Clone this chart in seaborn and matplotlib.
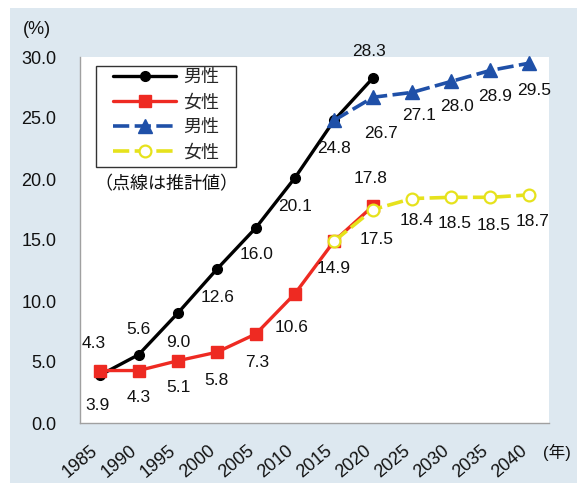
import numpy as np
import matplotlib
matplotlib.use("Agg")
import matplotlib.pyplot as plt
import seaborn as sns
from matplotlib.patches import Rectangle

# Lifetime unmarried rate (%), census results and projections
years = [1985, 1990, 1995, 2000, 2005, 2010, 2015, 2020, 2025, 2030, 2035, 2040]
census_years = [1985, 1990, 1995, 2000, 2005, 2010, 2015, 2020]
male_rate = [3.9, 5.6, 9.0, 12.6, 16.0, 20.1, 24.8, 28.3]
female_rate = [4.3, 4.3, 5.1, 5.8, 7.3, 10.6, 14.9, 17.8]
proj_years = [2015, 2020, 2025, 2030, 2035, 2040]
male_proj = [24.8, 26.7, 27.1, 28.0, 28.9, 29.5]
female_proj = [14.9, 17.5, 18.4, 18.5, 18.5, 18.7]
y_ticks = [0, 5, 10, 15, 20, 25, 30]

# value-label offsets in pixels (dx, dy) for each plotted point
male_off = [(-2, -30), (0, 25), (1, -29), (1, -28), (1, -27), (0, -29), (0, -28), (-4, 26)]
female_off = [(-6, 27), (0, -27), (1, -27), (0, -28), (1, -29), (-3, -34), (0, -27), (-3, 27)]
male_proj_off = [None, (8, -36), (7, -23), (6, -25), (5, -26), (5, -27)]
female_proj_off = [None, (4, -30), (4, -22), (3, -26), (3, -28), (3, -27)]

sns.set_style("white")
plt.rcParams["font.family"] = ["Liberation Sans", "Noto Sans CJK JP", "DejaVu Sans"]

BG = "#dde8f0"
BLACK = "#000000"
RED = "#ee2a22"
BLUE = "#1f50a8"
YELLOW = "#e6e21c"

W, H = 577, 483
AX_L, AX_R, AX_T, AX_B = 80, 549, 57, 423


def pos(yrs):
    # each year sits in the middle of its category slot
    return (np.asarray(yrs) - years[0]) / 5 + 0.5


def ax_xy(px, py):
    # pixel position (from top-left) -> axes fraction
    return (px - AX_L) / (AX_R - AX_L), (AX_B - py) / (AX_B - AX_T)


fig = plt.figure(figsize=(W / 100, H / 100), dpi=100, facecolor="white")
fig.patches.append(Rectangle((10 / W, 0), 1, 1 - 8 / H, transform=fig.transFigure,
                             facecolor=BG, edgecolor="none", zorder=-5))
ax = fig.add_axes([AX_L / W, 1 - AX_B / H, (AX_R - AX_L) / W, (AX_B - AX_T) / H])
ax.set_zorder(1)
ax.set_facecolor("white")

sns.lineplot(x=pos(census_years), y=male_rate, ax=ax, color=BLACK, lw=2.4,
             marker="o", markersize=7, markeredgecolor=BLACK, markeredgewidth=1,
             label="男性", clip_on=False, zorder=3)
sns.lineplot(x=pos(census_years), y=female_rate, ax=ax, color=RED, lw=2.4,
             marker="s", markersize=8, markeredgecolor=RED, markeredgewidth=1,
             label="女性", clip_on=False, zorder=4)
sns.lineplot(x=pos(proj_years), y=male_proj, ax=ax, color=BLUE, lw=2.6,
             linestyle=(0, (4.5, 1.5)), marker="^", markersize=9.5,
             markeredgecolor=BLUE, markeredgewidth=1,
             label="男性", clip_on=False, zorder=5)
sns.lineplot(x=pos(proj_years), y=female_proj, ax=ax, color=YELLOW, lw=2.6,
             linestyle=(0, (4.5, 1.5)), marker="o", markersize=8.5,
             markerfacecolor="white", markeredgecolor=YELLOW, markeredgewidth=1.6,
             label="女性", clip_on=False, zorder=6)


def label_points(xs, ys, offsets):
    for x, y, off in zip(pos(xs), ys, offsets):
        if off is None:
            continue
        ax.annotate(f"{y:.1f}", (x, y), xytext=off, textcoords="offset pixels",
                    ha="center", va="center", fontsize=12.5, color="#111111",
                    zorder=10, annotation_clip=False)


label_points(census_years, male_rate, male_off)
label_points(census_years, female_rate, female_off)
label_points(proj_years, male_proj, male_proj_off)
label_points(proj_years, female_proj, female_proj_off)

ax.set_xlim(0, len(years))
ax.set_ylim(0, 30)
ax.set_xticks(np.arange(len(years) + 1))
ax.set_xticklabels([str(y) for y in years] + [""], rotation=40, ha="center",
                   fontsize=13)
ax.set_yticks(y_ticks)
ax.set_yticklabels([f"{v:.1f}" for v in y_ticks], fontsize=13)
ax.tick_params(axis="x", direction="out", length=5, width=1, color="#a0a0a0",
               pad=9, labelcolor="#111111")
ax.tick_params(axis="y", direction="out", length=5, width=1, color="#a0a0a0",
               pad=12, labelcolor="#111111")
for side in ("top", "right"):
    ax.spines[side].set_visible(False)
for side in ("left", "bottom"):
    ax.spines[side].set_color("#a0a0a0")
    ax.spines[side].set_linewidth(1)

# legend frame drawn separately so its padding can differ by direction
fx0, fy0 = ax_xy(96, 167)
fx1, fy1 = ax_xy(236, 66)
ax.add_patch(Rectangle((fx0, fy0), fx1 - fx0, fy1 - fy0, transform=ax.transAxes,
                       facecolor="white", edgecolor="#333333", lw=1, zorder=19,
                       clip_on=False))
handles, labels = ax.get_legend_handles_labels()
leg = ax.legend(handles, labels, loc="upper left", bbox_to_anchor=ax_xy(113, 69),
                borderaxespad=0, borderpad=0, fontsize=13, handlelength=3.5,
                handletextpad=0.4, labelspacing=0.45, frameon=False)
leg.set_zorder(20)

ax.text(*ax_xy(166, 185), "（点線は推計値）", transform=ax.transAxes,
        ha="center", va="center", fontsize=13, color="#111111")
fig.text(37 / W, 1 - 30 / H, "(%)", ha="center", va="center", fontsize=13,
         color="#111111")
fig.text(543 / W, 1 - 452 / H, "(年)", ha="left", va="center", fontsize=12,
         color="#111111")

fig.savefig("out.png", dpi=100, facecolor=fig.get_facecolor())
